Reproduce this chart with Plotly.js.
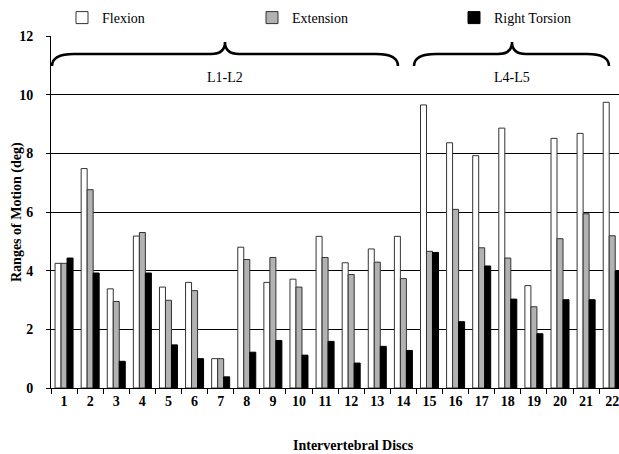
<!DOCTYPE html>
<html>
<head>
<meta charset="utf-8">
<script src="https://cdn.plot.ly/plotly-3.0.1.min.js"></script>
<style>html,body{margin:0;padding:0;background:#fff;}#chart{width:619px;height:454px;}</style>
</head>
<body>
<div id="chart"></div>
<script>
const discs = ["1","2","3","4","5","6","7","8","9","10","11","12","13","14","15","16","17","18","19","20","21","22"];
const flexion   = [4.25, 7.48, 3.38, 5.18, 3.44, 3.60, 1.00, 4.80, 3.60, 3.71, 5.17, 4.27, 4.74, 5.17, 9.65, 8.36, 7.92, 8.86, 3.49, 8.51, 8.68, 9.74];
const extension = [4.25, 6.76, 2.95, 5.30, 2.99, 3.32, 1.00, 4.38, 4.45, 3.44, 4.45, 3.87, 4.29, 3.73, 4.66, 6.09, 4.78, 4.43, 2.77, 5.09, 5.94, 5.19];
const torsion   = [4.43, 3.92, 0.91, 3.92, 1.47, 1.00, 0.38, 1.22, 1.62, 1.12, 1.59, 0.85, 1.42, 1.28, 4.62, 2.26, 4.16, 3.03, 1.85, 3.01, 3.01, 3.99];
const seriesNames = ["Flexion", "Extension", "Right Torsion"];
const groupLabels = ["L1-L2", "L4-L5"];

const FONT = "'Liberation Serif', 'Times New Roman', serif";
const W = 619, H = 454, ML = 51, MR = 0, MT = 36, MB = 66;
const PW = W - ML - MR, PH = H - MT - MB;
const px = x => (x - ML) / PW;
const py = y => (H - MB - y) / PH;

function bracePath(x0, x1, xm, yTip, yArm, yEnd) {
  const r = 22, rt = 14;
  const P = (x, y) => px(x).toFixed(5) + "," + py(y).toFixed(5);
  return "M" + P(x0, yEnd) +
    " Q" + P(x0, yArm) + " " + P(x0 + r, yArm) +
    " L" + P(xm - rt, yArm) +
    " Q" + P(xm, yArm) + " " + P(xm, yTip) +
    " Q" + P(xm, yArm) + " " + P(xm + rt, yArm) +
    " L" + P(x1 - r, yArm) +
    " Q" + P(x1, yArm) + " " + P(x1, yEnd);
}

const lineStyle = {color: "#333", width: 1};
const traces = [
  {type: "bar", x: discs, y: flexion, name: seriesNames[0], legend: "legend",
   marker: {color: "#ffffff", line: lineStyle}},
  {type: "bar", x: discs, y: extension, name: seriesNames[1], legend: "legend2",
   marker: {color: "#b2b2b2", line: lineStyle}},
  {type: "bar", x: discs, y: torsion, name: seriesNames[2], legend: "legend3",
   marker: {color: "#000000", line: {color: "#000", width: 1}}}
];

const legBase = {orientation: "h", yanchor: "middle", xanchor: "left", y: py(18),
  font: {family: FONT, size: 14, color: "#000"}, bgcolor: "rgba(0,0,0,0)", borderwidth: 0};

const layout = {
  width: W, height: H,
  margin: {l: ML, r: MR, t: MT, b: MB, pad: 0},
  paper_bgcolor: "#fff", plot_bgcolor: "#fff",
  font: {family: FONT, color: "#000"},
  barmode: "group", bargap: 0.31, bargroupgap: 0,
  showlegend: true,
  legend: Object.assign({}, legBase, {x: px(62)}),
  legend2: Object.assign({}, legBase, {x: px(252)}),
  legend3: Object.assign({}, legBase, {x: px(454)}),
  xaxis: {type: "category", range: [-0.5, 21.26], tickson: "boundaries",
    ticks: "outside", ticklen: 5, tickcolor: "#000", tickwidth: 1,
    showline: true, linecolor: "#000", linewidth: 1, showgrid: false,
    tickfont: {family: FONT, size: 14, color: "#000", weight: "bold"}, fixedrange: true},
  yaxis: {range: [0, 12], dtick: 2, ticks: "outside", ticklen: 4, tickcolor: "#000",
    showline: true, linecolor: "#000", linewidth: 1, showgrid: true, gridcolor: "#000", gridwidth: 1,
    zeroline: false, ticklabelstandoff: 10,
    tickfont: {family: FONT, size: 14, color: "#000", weight: "bold"}, fixedrange: true},
  shapes: [
    {type: "path", xref: "paper", yref: "paper", path: bracePath(52, 398, 225, 42, 54, 66),
     line: {color: "#000", width: 2.5}},
    {type: "path", xref: "paper", yref: "paper", path: bracePath(414, 609, 512, 42, 54, 66),
     line: {color: "#000", width: 2.5}}
  ],
  annotations: [
    {xref: "paper", yref: "paper", x: px(225), y: py(78), text: groupLabels[0], showarrow: false,
     xanchor: "center", yanchor: "middle", font: {family: FONT, size: 14, color: "#000"}},
    {xref: "paper", yref: "paper", x: px(512), y: py(78), text: groupLabels[1], showarrow: false,
     xanchor: "center", yanchor: "middle", font: {family: FONT, size: 14, color: "#000"}},
    {xref: "paper", yref: "paper", x: px(353), y: py(445), text: "<b>Intervertebral Discs</b>", showarrow: false,
     xanchor: "center", yanchor: "middle", font: {family: FONT, size: 14, color: "#000"}},
    {xref: "paper", yref: "paper", x: px(17), y: 0.5, text: "<b>Ranges of Motion (deg)</b>", showarrow: false,
     textangle: -90, xanchor: "center", yanchor: "middle", font: {family: FONT, size: 14, color: "#000"}}
  ]
};

Plotly.newPlot("chart", traces, layout, {displayModeBar: false, staticPlot: true});
</script>
</body>
</html>
